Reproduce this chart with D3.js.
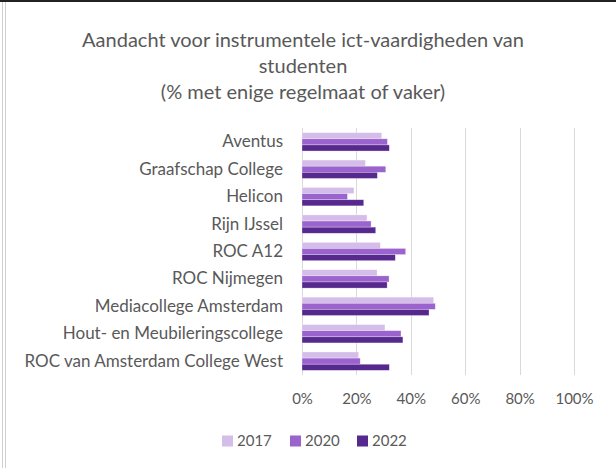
<!DOCTYPE html>
<html>
<head>
<meta charset="utf-8" />
<title>ICT-vaardigheden</title>
<script src="https://cdn.jsdelivr.net/npm/d3@7"></script>
<style>
  body { margin: 0; background: #fff; }
  #chart { width: 616px; height: 468px; position: relative; }
  text { font-family: "Lato", "Open Sans", sans-serif; fill: #595959; }
  .axis path, .axis line { display: none; }
  .grid line { stroke: #d9d9d9; stroke-width: 1px; shape-rendering: crispEdges; }
  .grid path { display: none; }
</style>
</head>
<body>
<div id="chart"></div>
<script>
var categories = ["Aventus", "Graafschap College", "Helicon", "Rijn IJssel", "ROC A12",
  "ROC Nijmegen", "Mediacollege Amsterdam", "Hout- en Meubileringscollege",
  "ROC van Amsterdam College West"];
var years = ["2017", "2020", "2022"];
var v2017 = [29.3, 23.3, 19.1, 23.9, 28.8, 27.6, 48.4, 30.5, 20.8];
var v2020 = [31.4, 30.8, 16.7, 25.4, 38.1, 32.0, 49.0, 36.4, 21.4];
var v2022 = [32.1, 27.7, 22.7, 27.1, 34.3, 31.3, 46.7, 37.1, 32.1];
var tickValues = [0, 20, 40, 60, 80, 100];
var titleLines = ["Aandacht voor instrumentele ict-vaardigheden van", "studenten", "(% met enige regelmaat of vaker)"];

var colors = {"2017": "#d5bde9", "2020": "#9b63cd", "2022": "#57298f"};
var series = [v2017, v2020, v2022];

var width = 616, height = 468;
var margin = {top: 128, right: 42, bottom: 93, left: 302};

var svg = d3.select("#chart").append("svg")
  .attr("width", width)
  .attr("height", height);

// frame bits
svg.append("rect").attr("x", 0).attr("y", 0).attr("width", width).attr("height", height).attr("fill", "#fff");
svg.append("line").attr("x1", 0).attr("x2", width).attr("y1", 1).attr("y2", 1)
  .attr("stroke", "#222").attr("stroke-width", 2);
svg.append("line").attr("x1", 2.5).attr("x2", 2.5).attr("y1", 2).attr("y2", height)
  .attr("stroke", "#d0d0d0").attr("stroke-width", 1);
svg.append("line").attr("x1", 5.5).attr("x2", 5.5).attr("y1", 2).attr("y2", height)
  .attr("stroke", "#d0d0d0").attr("stroke-width", 1);

var title = svg.append("text")
  .attr("text-anchor", "middle")
  .attr("font-size", "20px");
titleLines.forEach(function(t, i) {
  title.append("tspan").attr("x", 303).attr("y", 47 + i * 26).text(t);
});

var g = svg.append("g").attr("transform", "translate(" + margin.left + "," + margin.top + ")");

var x = d3.scaleLinear().domain([0, 100]).range([0, 272]);
var y = d3.scaleBand().domain(categories).range([0, 247]).paddingInner(0.33).paddingOuter(0.17);
var ySub = d3.scaleBand().domain(years).range([0, y.bandwidth()]);

g.append("g")
  .attr("class", "grid")
  .call(d3.axisBottom(x).tickValues(tickValues).tickSize(247).tickFormat(""));

g.append("g")
  .attr("class", "axis")
  .attr("transform", "translate(0,262)")
  .call(d3.axisBottom(x).tickValues(tickValues).tickSize(0).tickFormat(function(d) { return d + "%"; }))
  .selectAll("text").attr("font-size", "15px");

g.append("g")
  .attr("class", "axis")
  .attr("transform", "translate(-16,0)")
  .call(d3.axisLeft(y).tickSize(0))
  .selectAll("text").attr("font-size", "17px");

years.forEach(function(yr, i) {
  g.selectAll(".bar" + yr)
    .data(categories)
    .enter().append("rect")
    .attr("class", "bar" + yr)
    .attr("x", x(0))
    .attr("y", function(d) { return y(d) + ySub(yr); })
    .attr("height", ySub.bandwidth())
    .attr("width", function(d, j) { return x(series[i][j]) - x(0); })
    .attr("fill", colors[yr])
    .attr("stroke", "#fff")
    .attr("stroke-opacity", 0.5)
    .attr("stroke-width", 0.6);
});

var legend = svg.append("g").attr("transform", "translate(222,441)");
var lx = [0, 68, 135];
years.forEach(function(yr, i) {
  var item = legend.append("g").attr("transform", "translate(" + lx[i] + ",0)");
  item.append("rect").attr("x", 0).attr("y", -5.5).attr("width", 11).attr("height", 11).attr("fill", colors[yr]);
  item.append("text").attr("x", 15).attr("y", 0).attr("dy", "0.35em").attr("font-size", "15px").text(yr);
});
</script>
</body>
</html>
